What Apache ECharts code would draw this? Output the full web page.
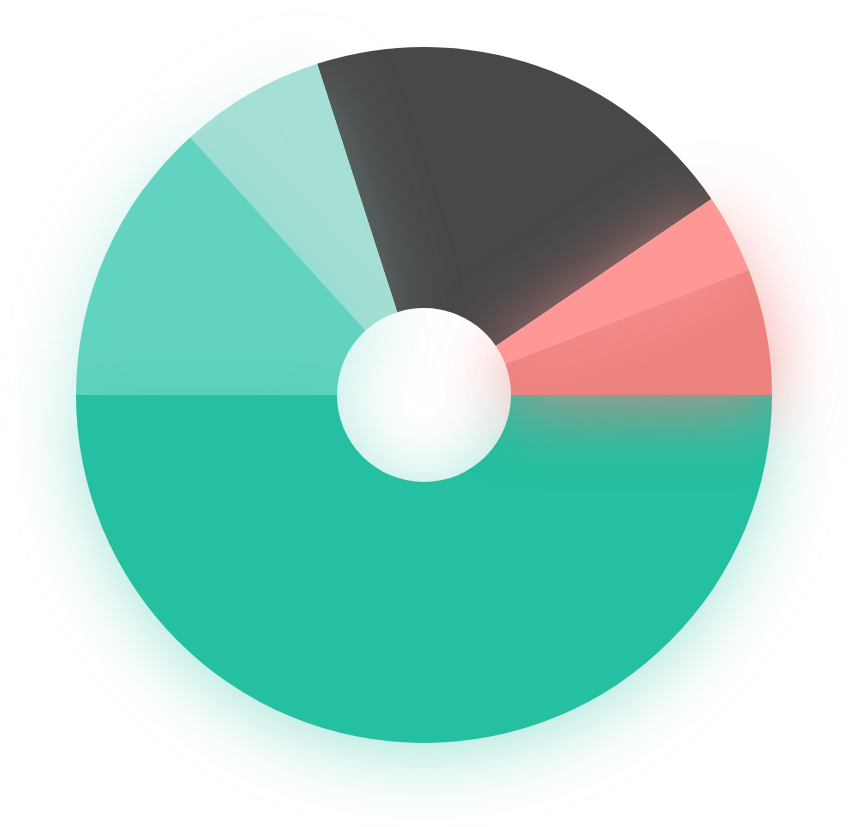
<!DOCTYPE html>
<html>
<head>
<meta charset="utf-8">
<script src="https://cdn.jsdelivr.net/npm/echarts@6/dist/echarts.min.js"></script>
<style>
  html, body { margin: 0; padding: 0; background: #fff; }
  #main { width: 848px; height: 827px; }
</style>
</head>
<body>
<div id="main"></div>
<script type="text/javascript">
// slices, counterclockwise from the gray one
var names = ['D', 'C', 'B', 'A', 'F', 'E'];
var values = [20.44, 6.75, 13.28, 50.0, 5.86, 3.67];
var colors = ['#484848', '#a6dfd5', '#62d3c0', '#25bfa1', '#ec827e', '#fe9896'];
// glow strength per slice (0 = no glow)
var glowAlpha = [0, 0.35, 0.4, 0.4, 0.8, 0.8];

// hex -> rgba with some transparency for the glow
function fade(hex, a) {
    var r = parseInt(hex.substr(1, 2), 16);
    var g = parseInt(hex.substr(3, 2), 16);
    var b = parseInt(hex.substr(5, 2), 16);
    return 'rgba(' + r + ',' + g + ',' + b + ',' + a + ')';
}

var chart = echarts.init(document.getElementById('main'));

var data = [];
for (var i = 0; i < values.length; i++) {
    data.push({
        name: names[i],
        value: values[i],
        itemStyle: {
            color: colors[i],
            shadowBlur: glowAlpha[i] ? 70 : 0,
            shadowOffsetY: glowAlpha[i] ? 12 : 0,
            shadowColor: fade(colors[i], glowAlpha[i])
        }
    });
}

chart.setOption({
    animation: false,
    series: [
        {
            type: 'pie',
            center: [424, 395],
            radius: [87, 348],
            startAngle: 34.3,
            clockwise: false,
            avoidLabelOverlap: false,
            label: { show: false },
            labelLine: { show: false },
            emphasis: { disabled: true },
            itemStyle: { borderWidth: 0 },
            data: data
        }
    ]
});
</script>
</body>
</html>
